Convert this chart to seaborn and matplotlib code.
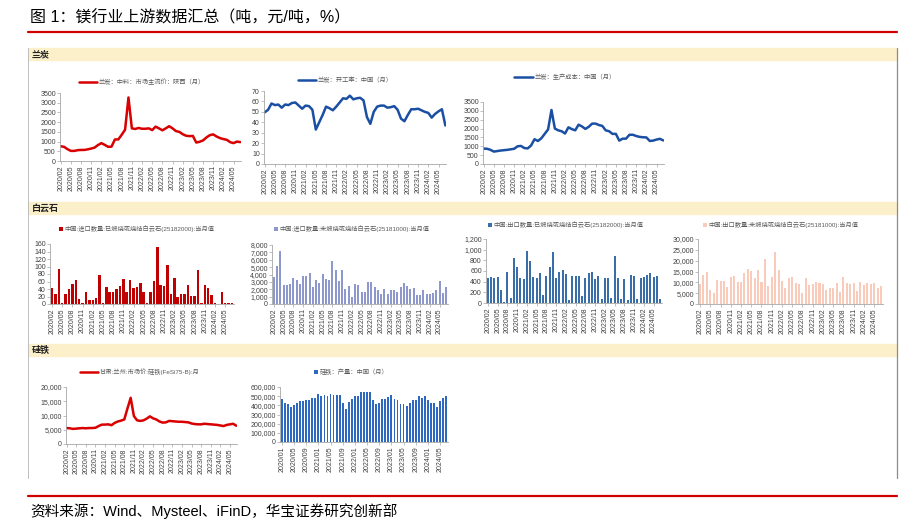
import numpy as np
import pandas as pd
import matplotlib
matplotlib.use("Agg")
import matplotlib.pyplot as plt
import seaborn as sns
from matplotlib.lines import Line2D
from matplotlib.patches import Patch, Rectangle
from matplotlib.ticker import FuncFormatter, MultipleLocator

## data
months = list(pd.period_range("2020-02", "2024-07", freq="M").strftime("%Y/%m"))
months_prod = list(pd.period_range("2020-01", "2024-07", freq="M").strftime("%Y/%m"))

lantan_price = [760, 730, 610, 520, 520, 555, 570, 570, 600, 640,
                690, 820, 920, 830, 730, 740, 1110, 1110, 1350, 1610,
                3270, 1680, 1650, 1700, 1660, 1660, 1680, 1590, 1770, 1680,
                1580, 1680, 1790, 1680, 1540, 1500, 1380, 1300, 1280, 1290,
                950, 990, 1060, 1210, 1330, 1370, 1260, 1180, 1130, 1090,
                970, 920, 1000, 970]
lantan_util = [49.5, 52, 58, 56.5, 57, 54, 57, 56.5, 58.5, 59,
               56, 53, 56, 55.5, 52, 33, 40, 47, 55, 53.5,
               51.5, 55, 59, 63, 62.5, 65.5, 62, 63, 63.5, 61,
               45, 38.5, 50, 55, 56, 56, 54, 54.5, 55.5, 52,
               43.5, 41, 47, 52.5, 52.5, 53, 51.5, 50, 49, 44.5,
               48, 50.5, 52.5, 37]
lantan_cost = [870, 860, 800, 700, 730, 760, 780, 800, 830, 860,
               1000, 1020, 900, 880, 1050, 1400, 1300, 1450, 1700, 1950,
               3050, 2000, 1900, 1850, 1720, 2070, 1970, 1900, 2220, 2120,
               1980, 2100, 2280, 2280, 2200, 2150, 1900, 1850, 1700, 1700,
               1320, 1430, 1430, 1650, 1650, 1580, 1530, 1510, 1500, 1300,
               1320, 1380, 1420, 1330]
dolo_imp_calc = [43, 27, 93, 2, 27, 41, 54, 65, 14, 2,
                 31, 12, 12, 17, 78, 3, 45, 32, 33, 39,
                 47, 66, 31, 64, 42, 45, 55, 33, 3, 33,
                 62, 153, 51, 48, 105, 26, 69, 18, 27, 27,
                 50, 21, 21, 92, 3, 51, 43, 25, 2, 0,
                 31, 2, 2, 2]
dolo_imp_raw = [3640, 5120, 7150, 2520, 2520, 2700, 3500, 3280, 2700, 3780,
                3780, 4220, 2300, 3240, 2880, 4130, 3370, 3280, 5890, 4630,
                3150, 4580, 2020, 2470, 940, 2740, 2600, 1620, 1620, 2920,
                3010, 2290, 1840, 1300, 2020, 1390, 1930, 1930, 1660, 2340,
                2830, 2380, 2020, 2160, 1260, 1260, 1890, 1390, 1390, 1480,
                1840, 3150, 1440, 2290]
dolo_exp_calc = [462, 488, 462, 488, 250, 26, 590, 90, 853, 680,
                 475, 443, 982, 789, 488, 468, 558, 154, 513, 667,
                 950, 462, 584, 616, 539, 58, 513, 513, 513, 122,
                 462, 565, 584, 456, 507, 83, 475, 475, 90, 879,
                 462, 83, 443, 58, 520, 507, 83, 475, 494, 520,
                 565, 494, 513, 70]
dolo_exp_raw = [9380, 13540, 14920, 6620, 5080, 11080, 10460, 10770, 7850, 12460,
                13080, 10150, 10310, 14150, 16000, 15380, 11850, 15690, 10000, 20920,
                8460, 12310, 24000, 15690, 10460, 7230, 12000, 12310, 9540, 9230,
                4920, 12150, 8920, 9230, 10310, 9540, 9380, 6460, 7230, 7230,
                9690, 5690, 12310, 9540, 9380, 9540, 6150, 10000, 8920, 9850,
                9230, 9540, 7380, 8150]
fesi_price = [5600, 5500, 5300, 5400, 5500, 5600, 5500, 5600, 5600, 5700,
              6300, 6800, 6800, 6900, 6600, 7400, 7900, 8200, 8600, 12500,
              16200, 9800, 8300, 8100, 8300, 8900, 9700, 9000, 8600, 7900,
              7500, 7600, 8100, 8000, 7900, 7800, 7800, 7700, 7600, 7200,
              7000, 6900, 6900, 7100, 7000, 6900, 6800, 6700, 6500, 6300,
              6700, 6900, 7100, 6400]
fesi_output = [470000, 425000, 415000, 385000, 400000, 425000, 450000, 450000, 455000, 462000,
               475000, 485000, 528000, 505000, 518000, 498000, 528000, 512000, 512000, 512000,
               428000, 358000, 432000, 468000, 498000, 498000, 542000, 542000, 542000, 545000,
               458000, 415000, 430000, 468000, 468000, 495000, 510000, 468000, 462000, 412000,
               412000, 392000, 425000, 462000, 462000, 502000, 478000, 500000, 462000, 422000,
               422000, 382000, 442000, 478000, 505000]

## style
sns.set_theme(style="white")
plt.rcParams["font.family"] = ["Liberation Sans", "Noto Sans CJK SC", "DejaVu Sans"]

W, H = 916, 531
fig = plt.figure(figsize=(9.16, 5.31), dpi=100)


def box(l, t, r, b):
    return [l / W, 1 - b / H, (r - l) / W, (b - t) / H]


def fig_line(x0, y0, x1, y1, color, lw):
    fig.add_artist(Line2D([x0 / W, x1 / W], [1 - y0 / H, 1 - y1 / H], color=color, lw=lw,
                          transform=fig.transFigure))


comma = FuncFormatter(lambda v, p: f"{v:,.0f}")
plain = FuncFormatter(lambda v, p: f"{v:.0f}")


def style_axis(ax, labels, step, ymax, ystep, fmt, line):
    n = len(labels)
    ax.set_xticks(range(0, n, step))
    ax.set_xticklabels(labels[::step])
    if line:
        ax.set_xlim(-0.2, n - 0.8)
    else:
        ax.set_xlim(-0.6, n - 0.4)
    ax.set_ylim(0, ymax)
    ax.yaxis.set_major_locator(MultipleLocator(ystep))
    ax.yaxis.set_major_formatter(fmt)
    ax.set_xlabel("")
    ax.set_ylabel("")
    sns.despine(ax=ax)
    for s in ["left", "bottom"]:
        ax.spines[s].set_color("#A6A6A6")
        ax.spines[s].set_linewidth(0.6)
    ax.tick_params(axis="x", bottom=True, length=2, width=0.5, color="#A6A6A6", pad=1,
                   labelsize=5, labelrotation=90, labelcolor="#404040")
    ax.tick_params(axis="y", left=True, length=2, width=0.5, color="#A6A6A6", pad=1,
                   labelsize=5, labelcolor="#404040")
    ax.set_facecolor("none")


def add_legend(ax, handle, text, cx, cy, bar):
    if bar:
        kw = dict(handlelength=0.6, handleheight=0.6)
    else:
        kw = dict(handlelength=2.9)
    ax.legend([handle], [text], loc="center", bbox_to_anchor=(cx / W, 1 - cy / H),
              bbox_transform=fig.transFigure, frameon=False, fontsize=4.5,
              handletextpad=0.3, borderpad=0, borderaxespad=0, labelcolor="#595959", **kw)


def line_panel(rect, labels, vals, color, ymax, ystep, fmt, text, cx, cy, step=3):
    ax = fig.add_axes(box(*rect))
    sns.lineplot(x=np.arange(len(vals)), y=vals, ax=ax, color=color, linewidth=1.8)
    style_axis(ax, labels, step, ymax, ystep, fmt, True)
    add_legend(ax, Line2D([], [], color=color, lw=1.8), text, cx, cy, False)
    return ax


def bar_panel(rect, labels, vals, color, ymax, ystep, fmt, text, cx, cy, width=0.6, step=3):
    ax = fig.add_axes(box(*rect))
    sns.barplot(x=labels, y=vals, ax=ax, color=color, width=width, saturation=1,
                linewidth=0, edgecolor=color)
    style_axis(ax, labels, step, ymax, ystep, fmt, False)
    add_legend(ax, Patch(facecolor=color, edgecolor=color, lw=0), text, cx, cy, True)
    return ax


## frame, title, section bands
fig.text(30 / W, 1 - 18 / H, "图 1：镁行业上游数据汇总（吨，元/吨，%）", fontsize=11.5,
         va="center", ha="left", color="black")
fig_line(28, 32, 897, 32, "#D00000", 1.6)
fig_line(28, 48, 28, 478, "#BFBFBF", 0.7)
fig_line(897, 48, 897, 478, "#8C8C8C", 0.9)
for top, name in [(48, "兰炭"), (202, "白云石"), (344, "硅铁")]:
    fig.add_artist(Rectangle((28 / W, 1 - (top + 12) / H), (897 - 28) / W, 12 / H,
                             color="#FCF0CB", transform=fig.transFigure, zorder=0))
    fig.text(32 / W, 1 - (top + 6.5) / H, name, fontsize=6.5, weight="bold",
             va="center", ha="left", color="#222222")

fig_line(28, 496, 897, 496, "#D00000", 1.6)
fig.text(30 / W, 1 - 511 / H, "资料来源：Wind、Mysteel、iFinD，华宝证券研究创新部", fontsize=10.5,
         va="center", ha="left", color="black")

## row 1: 兰炭
line_panel((60, 93, 241, 161), months, lantan_price, "#D80000", 3500, 500, plain,
           "兰炭：中料：市场主流价：陕西（月）", 142, 82)
line_panel((264, 91, 446, 164), months, lantan_util, "#1A4FA3", 70, 10, plain,
           "兰炭：开工率：中国（月）", 345, 80)
line_panel((483, 102, 664, 164), months, lantan_cost, "#1A4FA3", 3500, 500, plain,
           "兰炭：生产成本：中国（月）", 565, 77)

## row 2: 白云石
bar_panel((50, 244, 234, 304), months, dolo_imp_calc, "#C00000", 160, 20, plain,
          "中国:进口数量:已煅烧或烧结白云石(25182000):当月值", 137, 229, width=0.75)
bar_panel((272, 245, 448, 304), months, dolo_imp_raw, "#8E98CC", 8000, 1000, comma,
          "中国:进口数量:未煅烧或烧结白云石(25181000):当月值", 352, 229)
bar_panel((486, 239, 662, 303), months, dolo_exp_calc, "#3A6EA8", 1200, 200, comma,
          "中国:出口数量:已煅烧或烧结白云石(25182000):当月值", 566, 225)
bar_panel((698, 239, 883, 304), months, dolo_exp_raw, "#F8CBBB", 30000, 5000, comma,
          "中国:出口数量:未煅烧或烧结白云石(25181000):当月值", 781, 225)

## row 3: 硅铁
line_panel((66, 387, 237, 444), months, fesi_price, "#D80000", 20000, 5000, comma,
           "甘肃:兰州:市场价:硅铁(FeSi75-B):月", 140, 372)
bar_panel((280, 387, 448, 442), months_prod, fesi_output, "#2E68C0", 600000, 100000, comma,
          "硅铁：产量：中国（月）", 351, 372, step=4)

fig.savefig("out.png", dpi=100)
